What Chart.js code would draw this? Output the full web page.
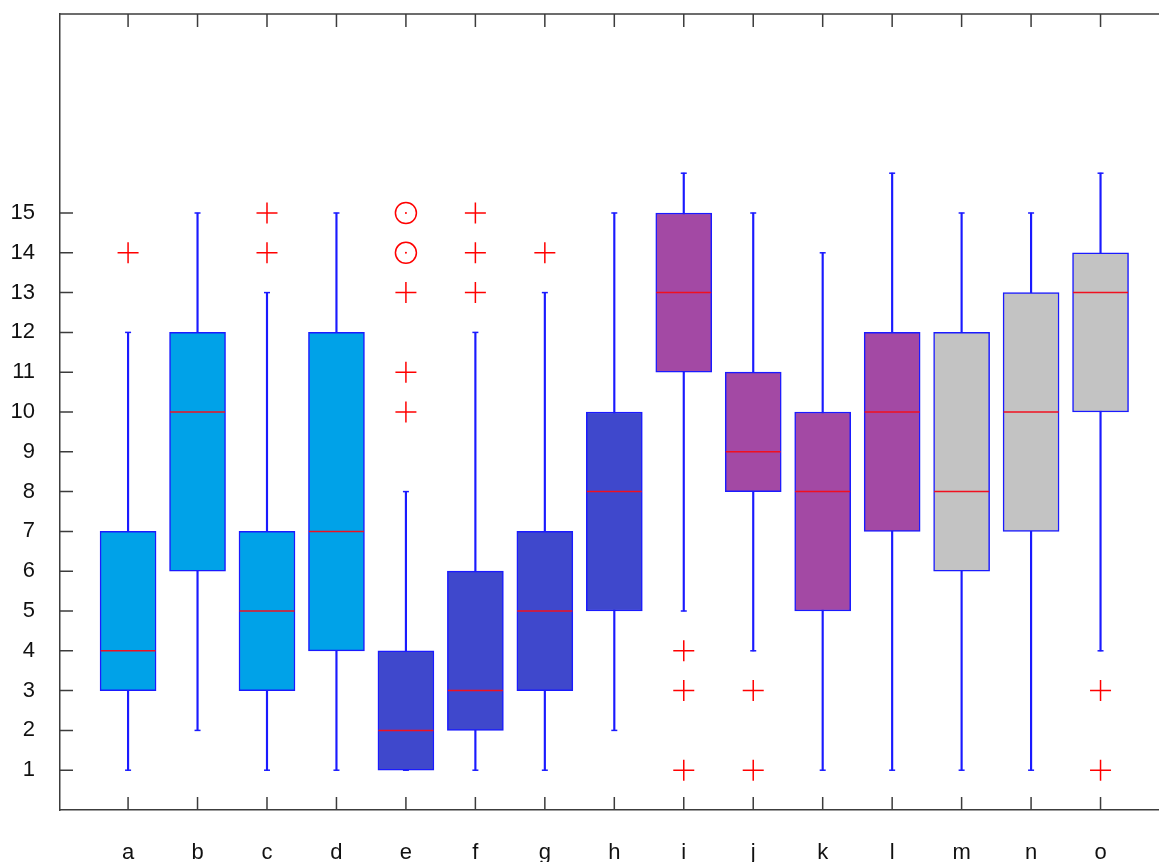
<!DOCTYPE html>
<html>
<head>
<meta charset="utf-8">
<script src="https://cdn.jsdelivr.net/npm/chart.js@4/dist/chart.umd.min.js"></script>
<style>
  html, body { margin: 0; padding: 0; background: #fff; overflow: hidden; }
  #wrap { width: 1240px; height: 880px; }
</style>
</head>
<body>
<div id="wrap"><canvas id="box_chart" width="1240" height="880"></canvas></div>
<script>
// box plot data
const categories = ['a', 'b', 'c', 'd', 'e', 'f', 'g', 'h', 'i', 'j', 'k', 'l', 'm', 'n', 'o'];
const mins    = [1, 2, 1, 1, 1, 1, 1, 2, 5, 4, 1, 1, 1, 1, 4];
const q1s     = [3, 6, 3, 4, 1, 2, 3, 5, 11, 8, 5, 7, 6, 7, 10];
const medians = [4, 10, 5, 7, 2, 3, 5, 8, 13, 9, 8, 10, 8, 10, 13];
const q3s     = [7, 12, 7, 12, 4, 6, 7, 10, 15, 11, 10, 12, 12, 13, 14];
const maxs    = [12, 15, 13, 15, 8, 12, 13, 15, 16, 15, 14, 16, 15, 15, 16];
// outliers (+) and far outliers (circles)
const outliers    = [[14], [], [14, 15], [], [10, 11, 13], [13, 14, 15], [14], [], [1, 3, 4], [1, 3], [], [], [], [], [1, 3]];
const farOutliers = [[], [], [], [], [14, 15], [], [], [], [], [], [], [], [], [], []];
const yTicks = [1, 2, 3, 4, 5, 6, 7, 8, 9, 10, 11, 12, 13, 14, 15];

const boxColors = ['#00A2E8', '#00A2E8', '#00A2E8', '#00A2E8',
                   '#3F48CC', '#3F48CC', '#3F48CC', '#3F48CC',
                   '#A349A4', '#A349A4', '#A349A4', '#A349A4',
                   '#C3C3C3', '#C3C3C3', '#C3C3C3'];

const pos = categories.map((c, i) => i + 1);
const axisColor = '#3c3c3c';
const blue = '#1a1aff';

const whiskerData = pos.map((x, i) => ({x: x, y: [mins[i], maxs[i]]}));
const boxData = pos.map((x, i) => ({x: x, y: [q1s[i], q3s[i]]}));
const medianData = pos.map((x, i) => ({x: x, y: medians[i]}));
const capData = [];
pos.forEach((x, i) => { capData.push({x: x, y: mins[i]}); capData.push({x: x, y: maxs[i]}); });
const outData = [];
outliers.forEach((list, i) => list.forEach(v => outData.push({x: pos[i], y: v})));
const farData = [];
farOutliers.forEach((list, i) => list.forEach(v => farData.push({x: pos[i], y: v})));

// inner tick marks + top border
const tickMarks = {
  id: 'tickMarks',
  afterDraw(chart) {
    const {ctx, chartArea: a, scales: {x, y}} = chart;
    ctx.save();
    ctx.strokeStyle = axisColor;
    ctx.lineWidth = 1.5;
    ctx.beginPath();
    ctx.moveTo(a.left, a.top); ctx.lineTo(a.right + 2, a.top);
    y.ticks.forEach(t => {
      const py = y.getPixelForValue(t.value);
      ctx.moveTo(a.left, py); ctx.lineTo(a.left + 13, py);
    });
    x.ticks.forEach(t => {
      const px = x.getPixelForValue(t.value);
      ctx.moveTo(px, a.bottom); ctx.lineTo(px, a.bottom - 13);
      ctx.moveTo(px, a.top); ctx.lineTo(px, a.top + 13);
    });
    ctx.stroke();
    ctx.restore();
  }
};

const ctx = document.getElementById('box_chart').getContext('2d');
new Chart(ctx, {
  type: 'bar',
  data: {
    datasets: [
      {
        type: 'bar', label: 'whisker', data: whiskerData, order: 3, grouped: false,
        backgroundColor: blue, barThickness: 1.5, borderWidth: 0
      },
      {
        type: 'bar', label: 'box', data: boxData, order: 2, grouped: false,
        backgroundColor: boxColors, borderColor: blue, borderWidth: 1.5,
        borderSkipped: false, barThickness: 56
      },
      {
        type: 'scatter', label: 'cap', data: capData, order: 1,
        pointStyle: 'line', pointRadius: 3, borderColor: blue, borderWidth: 1.5
      },
      {
        type: 'scatter', label: 'median', data: medianData, order: 0,
        pointStyle: 'line', pointRadius: 27.5, borderColor: '#F01020', borderWidth: 1.5
      },
      {
        type: 'scatter', label: 'outlier', data: outData, order: 0,
        pointStyle: 'cross', pointRadius: 10.5, borderColor: '#FF0000', borderWidth: 1.5
      },
      {
        type: 'scatter', label: 'far', data: farData, order: 0,
        pointStyle: 'circle', pointRadius: 10.5, borderColor: '#FF0000',
        backgroundColor: 'rgba(0,0,0,0)', borderWidth: 1.5
      },
      {
        type: 'scatter', label: 'far dot', data: farData, order: 0,
        pointStyle: 'circle', pointRadius: 1, borderColor: '#FF0000',
        backgroundColor: '#FF0000', borderWidth: 0
      }
    ]
  },
  options: {
    responsive: false,
    animation: false,
    layout: { autoPadding: false, padding: { left: 0, top: 14, right: 70, bottom: 0 } },
    plugins: { legend: { display: false }, tooltip: { enabled: false } },
    scales: {
      x: {
        type: 'linear', min: 0.02, max: 16, offset: false,
        afterBuildTicks: s => { s.ticks = pos.map(v => ({value: v})); },
        afterFit: s => { s.height = 70; s.paddingLeft = 0; s.paddingRight = 0; },
        grid: { offset: false, drawOnChartArea: false, drawTicks: false, color: axisColor },
        border: { display: true, color: axisColor, width: 1.5 },
        ticks: {
          padding: 30, color: '#111', maxRotation: 0, autoSkip: false,
          font: { family: 'Liberation Sans', size: 22 },
          callback: v => categories[v - 1]
        }
      },
      y: {
        min: 0, max: 20,
        afterBuildTicks: s => { s.ticks = yTicks.map(v => ({value: v})); },
        afterFit: s => { s.width = 60; s.paddingTop = 0; s.paddingBottom = 0; },
        grid: { drawOnChartArea: false, drawTicks: false, color: axisColor },
        border: { display: true, color: axisColor, width: 1.5 },
        ticks: {
          padding: 25, color: '#111',
          font: { family: 'Liberation Sans', size: 22 }
        }
      }
    }
  },
  plugins: [tickMarks]
});
</script>
</body>
</html>
